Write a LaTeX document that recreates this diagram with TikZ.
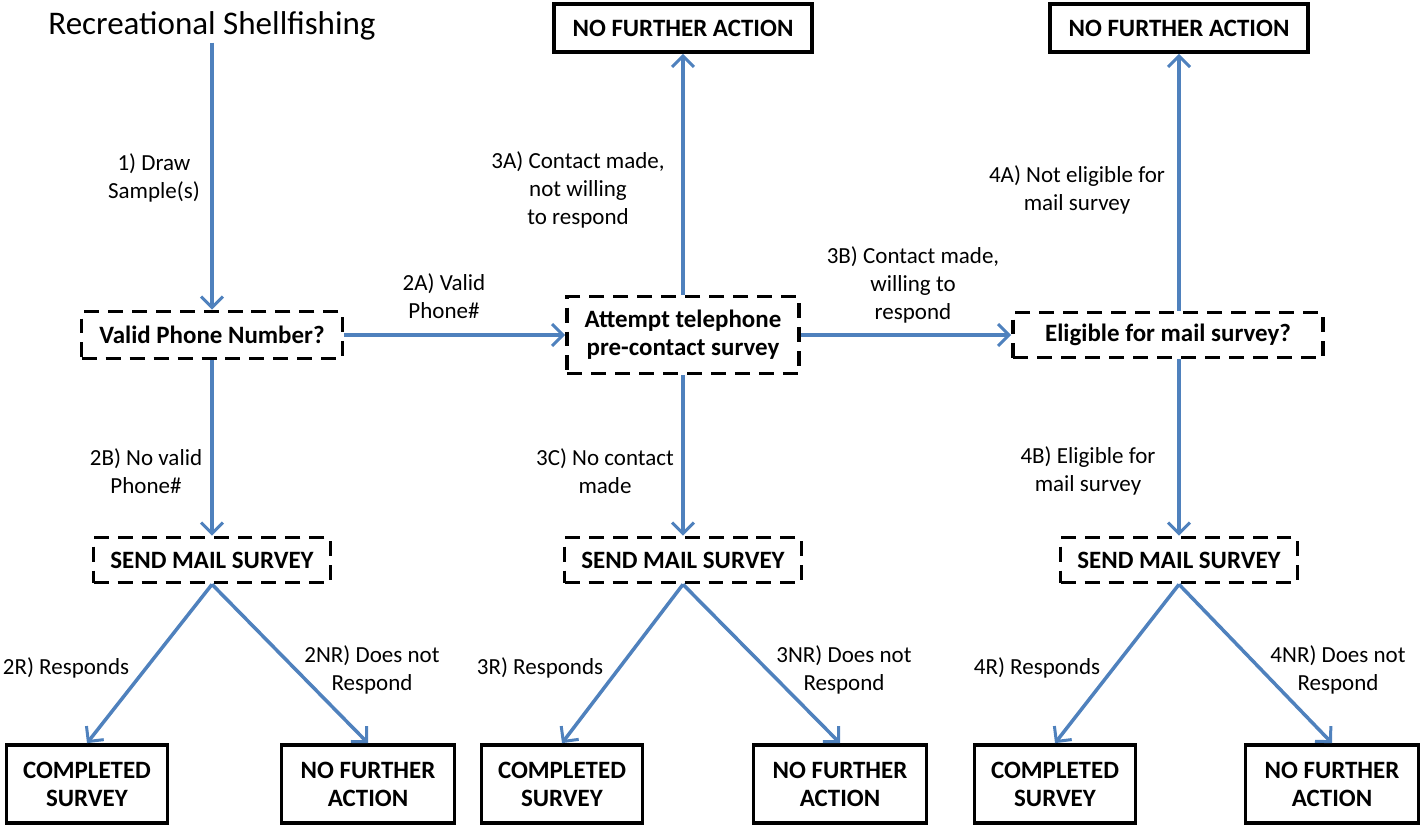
\documentclass[tikz,border=0pt]{standalone}
\usepackage{fontspec}
\setmainfont{Carlito}
\usetikzlibrary{arrows.meta}

\definecolor{flowblue}{RGB}{79,129,189}
\newcommand{\titlefont}{\fontsize{18.8}{22}\selectfont}
\newcommand{\boxfont}{\fontsize{14.2}{16}\selectfont\bfseries}
\newcommand{\notefont}{\fontsize{13.1}{15.9}\selectfont}

\tikzset{
  dashbox/.style={draw, line width=0.075cm, dash pattern=on 0.3cm off 0.18cm, inner sep=0pt, align=center, font=\boxfont},
  solidbox/.style={draw, line width=0.075cm, inner sep=0pt, align=center, font=\boxfont},
  flow/.style={draw=flowblue, line width=0.07cm, -{Straight Barb[length=0.22cm, width=0.44cm, line width=0.06cm]}},
  note/.style={inner sep=0pt, align=center, font=\notefont}
}

\begin{document}
\begin{tikzpicture}[x=0.02cm, y=-0.02cm]
\useasboundingbox (0, 0) rectangle (1423, 825);

\node[font=\titlefont, inner sep=0.04cm] (title) at (212, 26) {Recreational Shellfishing};

% decision boxes
\node[dashbox, minimum width=5.22cm, minimum height=0.94cm] (valid box) at (212, 335) {Valid Phone Number?};
\node[dashbox, minimum width=4.64cm, minimum height=1.54cm] (attempt box) at (683, 335) {Attempt telephone\\pre-contact survey};
\node[dashbox, minimum width=6.2cm, minimum height=0.9cm] (eligible box) at (1168, 335) {Eligible for mail survey?};

\node[solidbox, minimum width=5.16cm, minimum height=0.96cm] (stop box a) at (683, 28) {NO FURTHER ACTION};
\node[solidbox, minimum width=5.16cm, minimum height=0.96cm] (stop box b) at (1179, 28) {NO FURTHER ACTION};

% mail survey boxes
\node[dashbox, minimum width=4.74cm, minimum height=0.9cm] (send box 1) at (212, 560) {SEND MAIL SURVEY};
\node[dashbox, minimum width=4.74cm, minimum height=0.9cm] (send box 2) at (683, 560) {SEND MAIL SURVEY};
\node[dashbox, minimum width=4.74cm, minimum height=0.9cm] (send box 3) at (1179, 560) {SEND MAIL SURVEY};

% outcomes
\node[solidbox, minimum width=3.22cm, minimum height=1.56cm] (done box 1) at (87, 784) {COMPLETED\\SURVEY};
\node[solidbox, minimum width=3.46cm, minimum height=1.56cm] (stop box 1) at (368, 784) {NO FURTHER\\ACTION};
\node[solidbox, minimum width=3.22cm, minimum height=1.56cm] (done box 2) at (562, 784) {COMPLETED\\SURVEY};
\node[solidbox, minimum width=3.46cm, minimum height=1.56cm] (stop box 2) at (840, 784) {NO FURTHER\\ACTION};
\node[solidbox, minimum width=3.22cm, minimum height=1.56cm] (done box 3) at (1055, 784) {COMPLETED\\SURVEY};
\node[solidbox, minimum width=3.46cm, minimum height=1.56cm] (stop box 3) at (1332, 784) {NO FURTHER\\ACTION};

% labels
\node[note] (draw label) at (154, 178) {1) Draw\\Sample(s)};
\node[note] (valid label) at (444, 296) {2A) Valid\\Phone\#};
\node[note] (novalid label) at (146, 471) {2B) No valid\\Phone\#};
\node[note] (refuse label) at (578, 190) {3A) Contact made,\\not willing\\to respond};
\node[note] (willing label) at (913, 285) {3B) Contact made,\\willing to\\respond};
\node[note] (nocontact label) at (605, 471) {3C) No contact\\made};
\node[note] (ineligible label) at (1077, 190) {4A) Not eligible for\\mail survey};
\node[note] (eligible label) at (1088, 471) {4B) Eligible for\\mail survey};

\node[note] (responds label 1) at (66, 668) {2R) Responds};
\node[note] (silent label 1) at (372, 670) {2NR) Does not\\Respond};
\node[note] (responds label 2) at (540, 668) {3R) Responds};
\node[note] (silent label 2) at (844, 670) {3NR) Does not\\Respond};
\node[note] (responds label 3) at (1037, 668) {4R) Responds};
\node[note] (silent label 3) at (1338, 670) {4NR) Does not\\Respond};

% connectors
\draw[flow] (title.south) -- (valid box.north);
\draw[flow] (valid box.east) -- (attempt box.west);
\draw[flow] (attempt box.east) -- (eligible box.west);
\draw[flow] (attempt box.north) -- (stop box a.south);
\draw[flow] (eligible box.north -| stop box b.south) -- (stop box b.south);

\draw[flow] (valid box.south) -- (send box 1.north);
\draw[flow] (attempt box.south) -- (send box 2.north);
\draw[flow] (eligible box.south -| send box 3.north) -- (send box 3.north);

\draw[flow] (send box 1.south) -- (done box 1.north);
\draw[flow] (send box 1.south) -- (stop box 1.north);
\draw[flow] (send box 2.south) -- (done box 2.north);
\draw[flow] (send box 2.south) -- (stop box 2.north);
\draw[flow] (send box 3.south) -- (done box 3.north);
\draw[flow] (send box 3.south) -- (stop box 3.north);
\end{tikzpicture}
\end{document}
